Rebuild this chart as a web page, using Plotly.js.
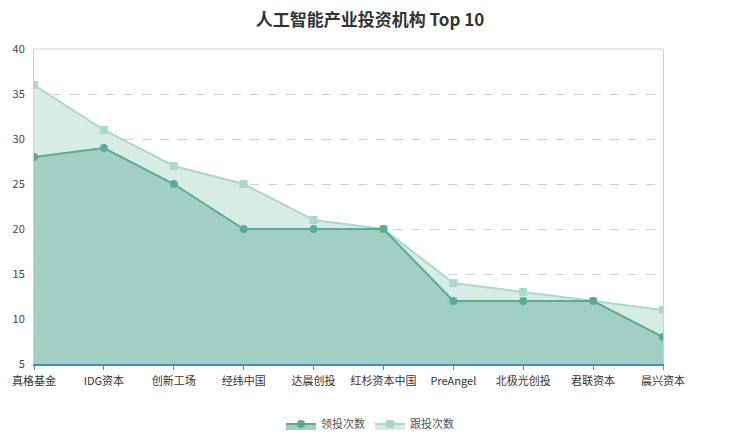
<!DOCTYPE html>
<html>
<head>
<meta charset="utf-8">
<script src="https://cdn.plot.ly/plotly-3.0.1.min.js"></script>
<style>
    html, body { margin: 0; padding: 0; background: #fff; }
    #placeholder { width: 740px; height: 441px; }
</style>
</head>
<body>
<div id="placeholder"></div>
<script>
// данные графика
var categories = ['真格基金', 'IDG资本', '创新工场', '经纬中国', '达晨创投', '红杉资本中国', 'PreAngel', '北极光创投', '君联资本', '晨兴资本'];
var leadName = '领投次数';
var leadValues = [28, 29, 25, 20, 20, 20, 12, 12, 12, 8];
var followName = '跟投次数';
var followValues = [36, 31, 27, 25, 21, 20, 14, 13, 12, 11];
var yTicks = [5, 10, 15, 20, 25, 30, 35, 40];

( function() {
    'use strict';

    var font = '"Microsoft YaHei", "Noto Sans CJK SC", sans-serif';

    document.addEventListener('DOMContentLoaded', function() {

        // 跟投 first so it sits behind, legend reversed
        var follow = {
            x: categories,
            y: followValues,
            name: followName,
            type: 'scatter',
            mode: 'lines+markers',
            fill: 'tozeroy',
            fillcolor: '#d7ece6',
            line: { color: '#aad8cc', width: 2 },
            marker: { symbol: 'square', size: 8, color: '#aad8cc' }
        };

        var lead = {
            x: categories,
            y: leadValues,
            name: leadName,
            type: 'scatter',
            mode: 'lines+markers',
            fill: 'tozeroy',
            fillcolor: '#a1cfc3',
            line: { color: '#5aab96', width: 2 },
            marker: { symbol: 'circle', size: 8, color: '#5aab96' }
        };

        var layout = {
            width: 740,
            height: 441,
            margin: { l: 34, r: 77, t: 49, b: 77 },
            paper_bgcolor: '#fff',
            plot_bgcolor: '#fff',
            font: { family: font, size: 11, color: '#333' },
            title: {
                text: '<b>人工智能产业投资机构 Top 10</b>',
                font: { family: font, size: 17, color: '#333' },
                x: 0.5,
                xanchor: 'center',
                y: 1 - 20 / 441,
                yanchor: 'middle'
            },
            xaxis: {
                type: 'category',
                range: [0, categories.length - 1],
                showgrid: false,
                showline: true,
                linecolor: '#4a8ac4',
                linewidth: 2,
                ticks: 'outside',
                ticklen: 4,
                tickcolor: '#4a8ac4',
                ticklabelstandoff: 2,
                tickfont: { family: font, size: 11, color: '#333' },
                automargin: false,
                fixedrange: true
            },
            yaxis: {
                range: [5, 40],
                tickvals: yTicks,
                showgrid: true,
                gridcolor: '#d0d0d0',
                griddash: 'dash',
                zeroline: false,
                showline: true,
                linecolor: '#d0d0d0',
                linewidth: 1,
                mirror: true,
                ticks: '',
                ticklabelstandoff: 6,
                tickfont: { family: font, size: 11, color: '#444' },
                automargin: false,
                fixedrange: true
            },
            shapes: [
                { type: 'line', xref: 'paper', yref: 'paper', x0: 0, x1: 1, y0: 1, y1: 1,
                  line: { color: '#d0d0d0', width: 1 } }
            ],
            showlegend: true,
            legend: {
                orientation: 'h',
                traceorder: 'reversed',
                xref: 'container',
                yref: 'container',
                x: 370 / 740,
                xanchor: 'center',
                y: 1 - 424 / 441,
                yanchor: 'middle',
                font: { family: font, size: 11, color: '#555' },
                itemwidth: 30
            }
        };

        Plotly.newPlot('placeholder', [follow, lead], layout, { displayModeBar: false, staticPlot: true });
    });
} )();
</script>
</body>
</html>
